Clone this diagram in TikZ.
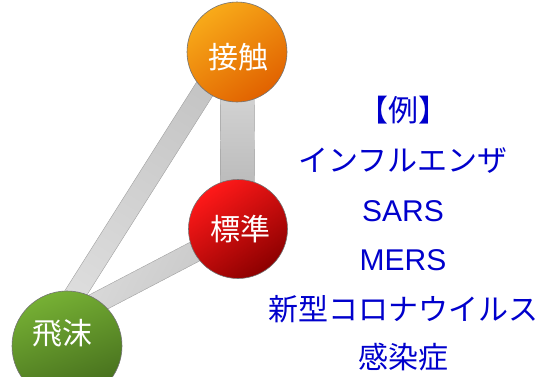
\documentclass[tikz,border=0pt]{standalone}
\usepackage{fontspec}
\newfontfamily\jp{Noto Sans CJK JP}
\newfontfamily\lat{Liberation Sans}
\usetikzlibrary{calc}
\definecolor{txtblue}{RGB}{0,0,204}
\definecolor{orT}{RGB}{248,170,25}
\definecolor{orM}{RGB}{243,150,0}
\definecolor{orB}{RGB}{225,98,0}
\definecolor{rdT}{RGB}{255,25,25}
\definecolor{rdM}{RGB}{238,0,0}
\definecolor{rdB}{RGB}{140,0,0}
\definecolor{gnT}{RGB}{118,176,52}
\definecolor{gnM}{RGB}{104,160,42}
\definecolor{gnB}{RGB}{68,108,28}
\definecolor{barL}{RGB}{222,222,222}
\definecolor{barD}{RGB}{196,196,196}
\definecolor{barE}{RGB}{160,160,160}
\tikzset{
  ballnode/.style={circle, draw=black!55, line width=0.6pt, inner sep=0pt, minimum size=#1},
  circtext/.style={font=\jp\fontsize{30}{30}\selectfont, text=white, inner sep=0pt},
  rtext/.style={font=\jp\fontsize{30}{30}\selectfont, text=txtblue, inner sep=0pt, anchor=center},
  ltext/.style={font=\lat\fontsize{30}{30}\selectfont, text=txtblue, inner sep=0pt, anchor=center},
  barstyle/.style={draw=barE, line width=0.4pt}
}
\newcommand{\greybar}[4]{%
  \path[barstyle,#4] ($(#1)!#3!90:(#2)$) -- ($(#2)!#3!-90:(#1)$) -- ($(#2)!#3!90:(#1)$) -- ($(#1)!#3!-90:(#2)$) -- cycle;}
\begin{document}
\begin{tikzpicture}[x=1pt,y=-1pt]
\useasboundingbox (0,0) rectangle (544,376);
\coordinate (oc) at (237,52);
\coordinate (rc) at (238,229);
\coordinate (gc) at (67,346);
\coordinate (oe1) at (228,52);
\coordinate (ge1) at (48,337);
\coordinate (ge2) at (62,321);
% bars
\greybar{oe1}{ge1}{10.5pt}{left color=barD, right color=barL, shading angle=-32}
\greybar{rc}{ge2}{10.5pt}{top color=barL, bottom color=barD, shading angle=62}
\greybar{oc}{rc}{17pt}{top color=barL, bottom color=barD!70!gray}
% circles
\node[ballnode=100pt, top color=orT, middle color=orM, bottom color=orB, shading angle=35] (orange) at (oc) {};
\node[ballnode=99pt, top color=rdT, middle color=rdM, bottom color=rdB, shading angle=35] (red) at (rc) {};
\node[ballnode=110pt, top color=gnT, middle color=gnM, bottom color=gnB, shading angle=20] (green) at (gc) {};
\node[circtext] (t1) at (238,57) {接触};
\node[circtext] (t2) at (240,229) {標準};
\node[circtext] (t3) at (62,333) {飛沫};
% right text
\node[rtext] (r1) at (403,110) {【例】};
\node[rtext] (r2) at (403,161) {インフルエンザ};
\node[ltext] (r3) at (403,211) {SARS};
\node[ltext] (r4) at (403,260) {MERS};
\node[rtext] (r5) at (403,309) {新型コロナウイルス};
\node[rtext] (r6) at (403,357) {感染症};
\end{tikzpicture}
\end{document}
